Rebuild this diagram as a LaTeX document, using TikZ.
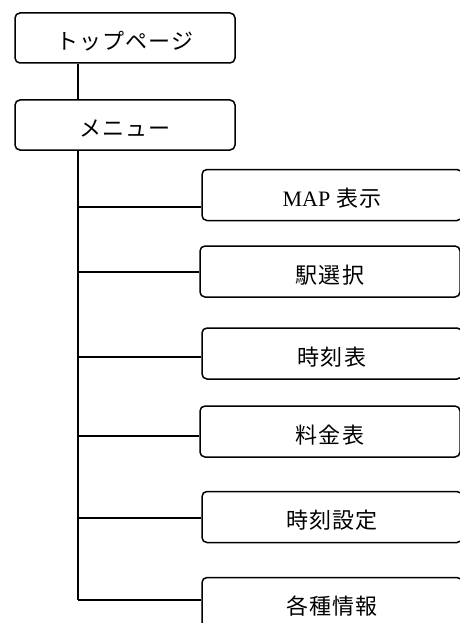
\documentclass[tikz,border=0pt]{standalone}
\usepackage{fontspec}
\setmainfont{Liberation Serif}
\newfontfamily\jp[LetterSpace=5]{Noto Sans CJK JP}
\usetikzlibrary{positioning}

\begin{document}
\begin{tikzpicture}[x=1pt, y=-1pt,
  caja/.style={draw, line width=1.5pt, rounded corners=5pt, inner sep=0pt,
               text height=27pt, text depth=4pt,
               font=\fontsize{22}{26}\selectfont\jp},
  raiz/.style={caja, minimum width=220pt, minimum height=50pt},
  hoja/.style={caja, minimum width=260pt, minimum height=51pt},
  rama/.style={line width=1.5pt}]

\useasboundingbox (0,0) rectangle (459,623);

% Cajas de arriba
\node[raiz] (top) at (125,38) {トップページ};
\node[raiz] (menu) at (125,125) {メニュー};

% Tronco
\coordinate (t0) at (78,600);
\draw[rama] (top.south -| t0) -- (menu.north -| t0);
\draw[rama] (menu.south -| t0) -- (t0);

% Cajas de la derecha
\node[hoja] (map) at (332,195) {{\rmfamily MAP} 表示};
\node[hoja] (eki) at (330,271.5) {駅選択};
\node[hoja] (jikoku) at (332,353.5) {時刻表};
\node[hoja] (ryokin) at (330,431.5) {料金表};
\node[hoja] (settei) at (332,517) {時刻設定};
\node[hoja] (info) at (332,603) {各種情報};

% Ramas
\coordinate (r1) at (78,207);
\coordinate (r2) at (78,272);
\coordinate (r3) at (78,357);
\coordinate (r4) at (78,436);
\coordinate (r5) at (78,518);
\draw[rama] (r1) -- (r1 -| map.west);
\draw[rama] (r2) -- (r2 -| eki.west);
\draw[rama] (r3) -- (r3 -| jikoku.west);
\draw[rama] (r4) -- (r4 -| ryokin.west);
\draw[rama] (r5) -- (r5 -| settei.west);
\draw[rama] (t0) -- (t0 -| info.west);

\end{tikzpicture}
\end{document}
